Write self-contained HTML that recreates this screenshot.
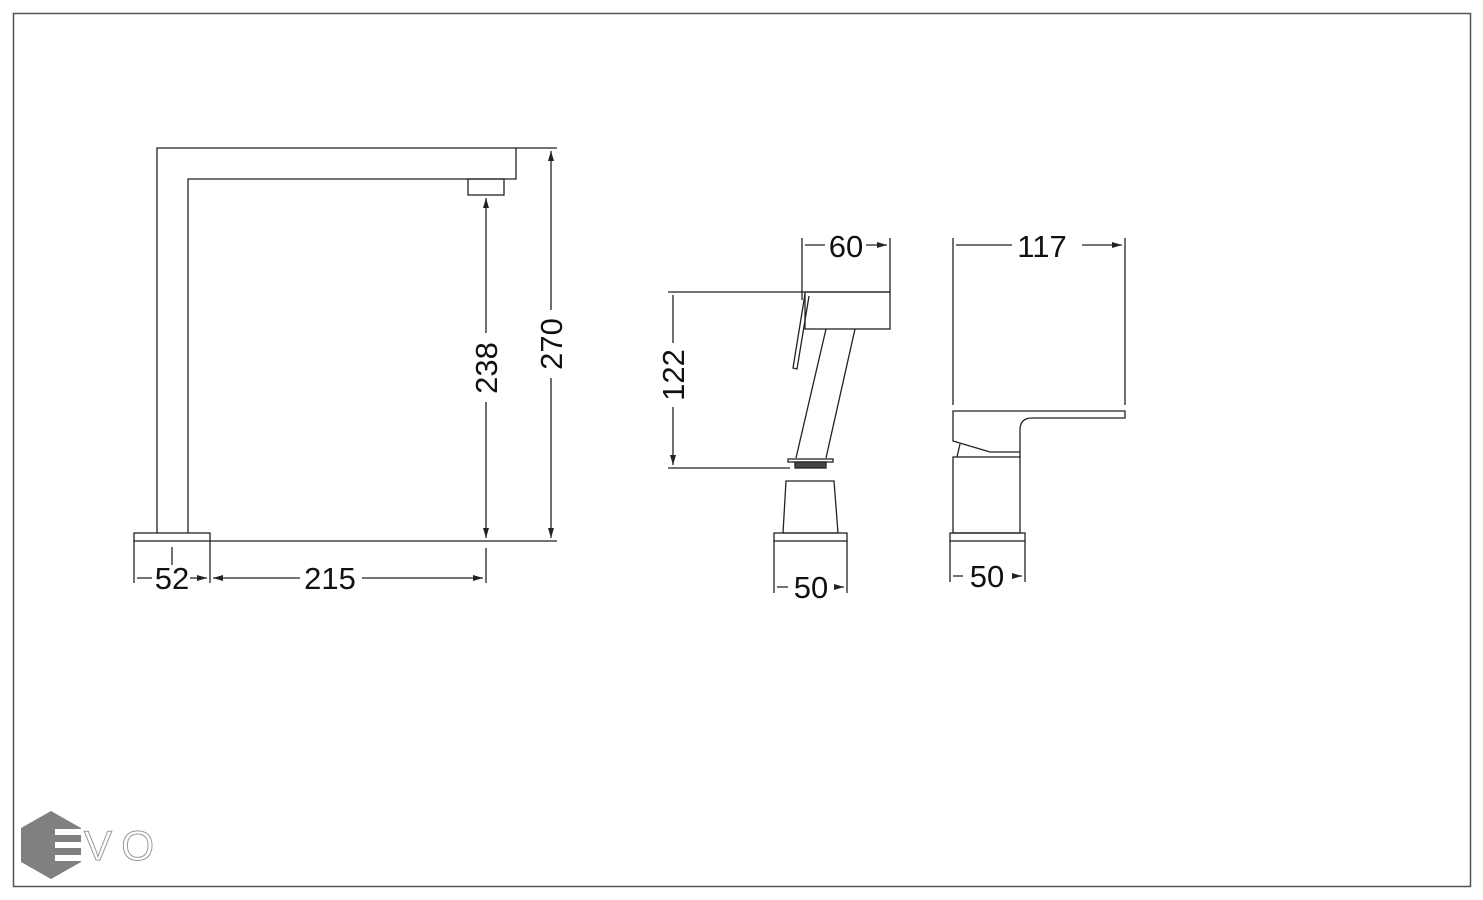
<!DOCTYPE html>
<html><head><style>body{margin:0;background:#fff}svg{display:block}</style></head>
<body>
<svg width="1483" height="900" viewBox="0 0 1483 900" xmlns="http://www.w3.org/2000/svg">
<rect x="0" y="0" width="1483" height="900" fill="#fff"/>
<rect x="13.5" y="13.5" width="1457" height="873" fill="none" stroke="#555" stroke-width="1.5"/>
<defs>
<marker id="a" viewBox="0 0 10 6" refX="10" refY="3" markerWidth="10" markerHeight="6" orient="auto-start-reverse" markerUnits="userSpaceOnUse"><path d="M0,0L10,3L0,6z" fill="#222"/></marker>
</defs>
<g stroke="#222" stroke-width="1.3" fill="none">
<path d="M157,533V148H516V179H188V533"/>
<rect x="468" y="179" width="36" height="16"/>
<rect x="134" y="533" width="76" height="8"/>
<path d="M210,541H557M516,148H557"/>
<path d="M551,310V151" marker-end="url(#a)"/>
<path d="M551,378V538" marker-end="url(#a)"/>
<path d="M486,333V198" marker-end="url(#a)"/>
<path d="M486,402V538" marker-end="url(#a)"/>
<path d="M134,541V583M210,541V583M486,548V583M172,547V565"/>
<path d="M152,578H137M190,578H207" marker-end="url(#a)"/>
<path d="M300,578H213" marker-end="url(#a)"/>
<path d="M362,578H483" marker-end="url(#a)"/>
<path d="M802,238V300M890,238V292"/>
<path d="M825,245H805M866,245H887" marker-end="url(#a)"/>
<rect x="805" y="292" width="85" height="37"/>
<path d="M668,292H890M668,468H790"/>
<path d="M805,294L793,368L797,369L809,296"/>
<path d="M826,329L796,458M855,329L826,458"/>
<rect x="788" y="459" width="45" height="3"/>
<rect x="795" y="462" width="31" height="6" fill="#444"/>
<path d="M673,343V295M673,407V465" marker-end="url(#a)"/>
<path d="M786,481H834L838,533H783Z"/>
<rect x="774" y="533" width="73" height="8"/>
<path d="M774,541V593M847,541V593"/>
<path d="M788,587H777M834,587H844" marker-end="url(#a)"/>
<path d="M953,238V405M1125,238V405"/>
<path d="M1012,245H956M1082,245H1122" marker-end="url(#a)"/>
<path d="M953,411H1125V418H1032Q1020,418 1020,430V452H990L953,441Z"/>
<path d="M960,444L957,457M1020,452V457"/>
<rect x="953" y="457" width="67" height="76"/>
<rect x="950" y="533" width="75" height="8"/>
<path d="M950,541V582M1025,541V582"/>
<path d="M963,576H953M1012,576H1022" marker-end="url(#a)"/>
</g>
<g font-family="Liberation Sans, sans-serif" font-size="31" fill="#111" text-anchor="middle">
<text x="172" y="589">52</text>
<text x="330" y="589">215</text>
<text x="846" y="257">60</text>
<text x="1042" y="257">117</text>
<text x="811" y="598">50</text>
<text x="987" y="587">50</text>
<text transform="translate(562,344) rotate(-90)">270</text>
<text transform="translate(497,368) rotate(-90)">238</text>
<text transform="translate(684,375) rotate(-90)">122</text>
</g>
<polygon points="51,811 81,828 81,862 51,879 21,862 21,828" fill="#808080"/>
<rect x="55" y="829" width="28" height="6" fill="#fff"/>
<rect x="55" y="842" width="28" height="6" fill="#fff"/>
<rect x="55" y="855" width="28" height="6" fill="#fff"/>
<text x="84" y="860" font-family="Liberation Sans, sans-serif" font-size="42" textLength="70" fill="#fff" stroke="#999" stroke-width="1">VO</text>
</svg>
</body></html>
